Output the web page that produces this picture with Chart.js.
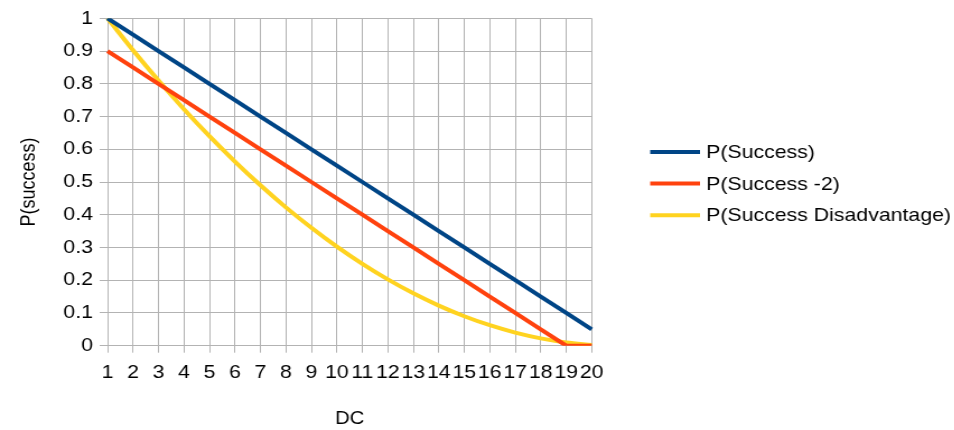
<!DOCTYPE html>
<html>
<head>
<meta charset="utf-8">
<script src="https://cdn.jsdelivr.net/npm/chart.js@4"></script>
<style>
  html, body { margin: 0; padding: 0; background: #fff; overflow: hidden; }
  #wrap { width: 852px; height: 430px; transform: scaleX(1.12); transform-origin: 0 0; }
</style>
</head>
<body>
<div id="wrap"><canvas id="dc-chart" width="852" height="430"></canvas></div>
<script>
const dcLabels = ['1', '2', '3', '4', '5', '6', '7', '8', '9', '10',
  '11', '12', '13', '14', '15', '16', '17', '18', '19', '20'];
const yTickLabels = ['0', '0.1', '0.2', '0.3', '0.4', '0.5', '0.6', '0.7', '0.8', '0.9', '1'];

const pSuccess = [1, 0.95, 0.9, 0.85, 0.8, 0.75, 0.7, 0.65, 0.6, 0.55,
  0.5, 0.45, 0.4, 0.35, 0.3, 0.25, 0.2, 0.15, 0.1, 0.05];
const pSuccessMinus2 = [0.9, 0.85, 0.8, 0.75, 0.7, 0.65, 0.6, 0.55, 0.5, 0.45,
  0.4, 0.35, 0.3, 0.25, 0.2, 0.15, 0.1, 0.05, 0, 0];
const pDisadvantage = [1, 0.9025, 0.81, 0.7225, 0.64, 0.5625, 0.49, 0.4225, 0.36, 0.3025,
  0.25, 0.2025, 0.16, 0.1225, 0.09, 0.0625, 0.04, 0.0225, 0.01, 0.0025];

const FONT = 'Liberation Sans, Arial, sans-serif';
const GRID = '#b3b3b3';

// legend drawn by hand so it can sit where the original one does
const sideLegend = {
  id: 'sideLegend',
  afterDraw(chart) {
    const ctx = chart.ctx;
    ctx.save();
    ctx.font = '19px ' + FONT;
    ctx.textBaseline = 'middle';
    ctx.fillStyle = '#000';
    chart.data.datasets.forEach((ds, i) => {
      const y = 152 + i * 31.6;
      ctx.strokeStyle = ds.borderColor;
      ctx.lineWidth = 4;
      ctx.beginPath();
      ctx.moveTo(580.5, y);
      ctx.lineTo(625, y);
      ctx.stroke();
      ctx.fillText(ds.label, 630.5, y + 1);
    });
    ctx.restore();
  },
};

function createChart() {
  const ctx = document.getElementById('dc-chart').getContext('2d');
  return new Chart(ctx, {
    type: 'line',
    data: {
      labels: dcLabels,
      datasets: [
        { label: 'P(Success)', data: pSuccess, borderColor: '#004586' },
        { label: 'P(Success -2)', data: pSuccessMinus2, borderColor: '#ff420e' },
        {
          label: 'P(Success Disadvantage)',
          data: pDisadvantage,
          borderColor: '#ffd320',
          cubicInterpolationMode: 'monotone',
        },
      ],
    },
    options: {
      responsive: false,
      animation: false,
      layout: { padding: { top: 18.3, right: 852 - 528.3, bottom: 0, left: 0 } },
      datasets: {
        line: {
          borderWidth: 4,
          pointRadius: 0,
          fill: false,
          tension: 0,
        },
      },
      plugins: {
        legend: { display: false },
        tooltip: { enabled: false },
      },
      scales: {
        x: {
          grid: { color: GRID, tickLength: 7 },
          border: { color: GRID },
          ticks: {
            color: '#000',
            font: { family: FONT, size: 19 },
            padding: 9,
            autoSkip: false,
            maxRotation: 0,
          },
          title: {
            display: true,
            text: 'DC',
            color: '#000',
            font: { family: FONT, size: 18 },
            padding: { top: 20, bottom: 0 },
          },
          afterFit(scale) { scale.height = 430 - 345.7; },
        },
        y: {
          min: 0,
          max: 1,
          grid: { color: GRID, tickLength: 7 },
          border: { color: GRID },
          ticks: {
            stepSize: 0.1,
            color: '#000',
            font: { family: FONT, size: 19 },
            padding: 6,
            callback: (v, i) => yTickLabels[i],
          },
          title: {
            display: true,
            text: 'P(success)',
            color: '#000',
            font: { family: FONT, size: 18 },
            padding: { top: 15, bottom: 0 },
          },
          afterFit(scale) { scale.width = 96; },
        },
      },
    },
    plugins: [sideLegend],
  });
}

document.addEventListener('DOMContentLoaded', createChart);
</script>
</body>
</html>
